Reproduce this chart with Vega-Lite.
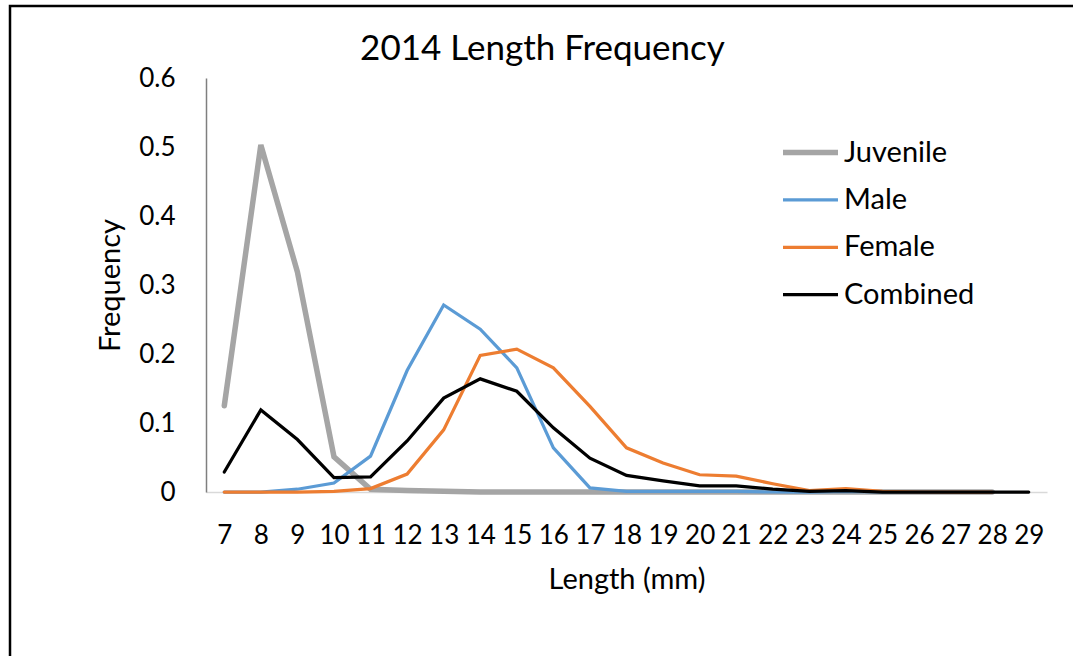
{
  "$schema": "https://vega.github.io/schema/vega-lite/v6.json",
  "autosize": {"type": "none"},
  "width": 1093,
  "height": 680,
  "padding": {"left": 10, "top": 6, "right": -30, "bottom": -30},
  "background": "white",
  "title": {
    "text": "2014 Length Frequency",
    "font": "Lato",
    "fontSize": 35,
    "fontWeight": "normal",
    "color": "#000000",
    "anchor": "middle",
    "frame": "group",
    "baseline": "alphabetic",
    "offset": -89,
    "dx": -14
  },
  "config": {
    "view": {"stroke": "#000000", "strokeWidth": 2.5, "fill": "white"},
    "font": "Lato"
  },
  "datasets": {
    "freq": [
      {"len": 7, "series": "Juvenile", "value": 0.125},
      {"len": 8, "series": "Juvenile", "value": 0.503},
      {"len": 9, "series": "Juvenile", "value": 0.319},
      {"len": 10, "series": "Juvenile", "value": 0.051},
      {"len": 11, "series": "Juvenile", "value": 0.004},
      {"len": 12, "series": "Juvenile", "value": 0.002},
      {"len": 13, "series": "Juvenile", "value": 0.001},
      {"len": 14, "series": "Juvenile", "value": 0},
      {"len": 15, "series": "Juvenile", "value": 0},
      {"len": 16, "series": "Juvenile", "value": 0},
      {"len": 17, "series": "Juvenile", "value": 0},
      {"len": 18, "series": "Juvenile", "value": 0},
      {"len": 19, "series": "Juvenile", "value": 0},
      {"len": 20, "series": "Juvenile", "value": 0},
      {"len": 21, "series": "Juvenile", "value": 0},
      {"len": 22, "series": "Juvenile", "value": 0},
      {"len": 23, "series": "Juvenile", "value": 0},
      {"len": 24, "series": "Juvenile", "value": 0},
      {"len": 25, "series": "Juvenile", "value": 0},
      {"len": 26, "series": "Juvenile", "value": 0},
      {"len": 27, "series": "Juvenile", "value": 0},
      {"len": 28, "series": "Juvenile", "value": 0},

      {"len": 7, "series": "Male", "value": 0},
      {"len": 8, "series": "Male", "value": 0},
      {"len": 9, "series": "Male", "value": 0.004},
      {"len": 10, "series": "Male", "value": 0.013},
      {"len": 11, "series": "Male", "value": 0.052},
      {"len": 12, "series": "Male", "value": 0.176},
      {"len": 13, "series": "Male", "value": 0.271},
      {"len": 14, "series": "Male", "value": 0.236},
      {"len": 15, "series": "Male", "value": 0.18},
      {"len": 16, "series": "Male", "value": 0.064},
      {"len": 17, "series": "Male", "value": 0.006},
      {"len": 18, "series": "Male", "value": 0.001},
      {"len": 19, "series": "Male", "value": 0.001},
      {"len": 20, "series": "Male", "value": 0.001},
      {"len": 21, "series": "Male", "value": 0.001},
      {"len": 22, "series": "Male", "value": 0},
      {"len": 23, "series": "Male", "value": 0},
      {"len": 24, "series": "Male", "value": 0.001},
      {"len": 25, "series": "Male", "value": 0},
      {"len": 26, "series": "Male", "value": 0},
      {"len": 27, "series": "Male", "value": 0},
      {"len": 28, "series": "Male", "value": 0},

      {"len": 7, "series": "Female", "value": 0},
      {"len": 8, "series": "Female", "value": 0},
      {"len": 9, "series": "Female", "value": 0},
      {"len": 10, "series": "Female", "value": 0.001},
      {"len": 11, "series": "Female", "value": 0.005},
      {"len": 12, "series": "Female", "value": 0.026},
      {"len": 13, "series": "Female", "value": 0.09},
      {"len": 14, "series": "Female", "value": 0.198},
      {"len": 15, "series": "Female", "value": 0.207},
      {"len": 16, "series": "Female", "value": 0.18},
      {"len": 17, "series": "Female", "value": 0.124},
      {"len": 18, "series": "Female", "value": 0.064},
      {"len": 19, "series": "Female", "value": 0.042},
      {"len": 20, "series": "Female", "value": 0.025},
      {"len": 21, "series": "Female", "value": 0.023},
      {"len": 22, "series": "Female", "value": 0.012},
      {"len": 23, "series": "Female", "value": 0.002},
      {"len": 24, "series": "Female", "value": 0.005},
      {"len": 25, "series": "Female", "value": 0.001},
      {"len": 26, "series": "Female", "value": 0},
      {"len": 27, "series": "Female", "value": 0},
      {"len": 28, "series": "Female", "value": 0},

      {"len": 7, "series": "Combined", "value": 0.029},
      {"len": 8, "series": "Combined", "value": 0.119},
      {"len": 9, "series": "Combined", "value": 0.076},
      {"len": 10, "series": "Combined", "value": 0.021},
      {"len": 11, "series": "Combined", "value": 0.022},
      {"len": 12, "series": "Combined", "value": 0.074},
      {"len": 13, "series": "Combined", "value": 0.136},
      {"len": 14, "series": "Combined", "value": 0.164},
      {"len": 15, "series": "Combined", "value": 0.146},
      {"len": 16, "series": "Combined", "value": 0.093},
      {"len": 17, "series": "Combined", "value": 0.049},
      {"len": 18, "series": "Combined", "value": 0.024},
      {"len": 19, "series": "Combined", "value": 0.016},
      {"len": 20, "series": "Combined", "value": 0.009},
      {"len": 21, "series": "Combined", "value": 0.009},
      {"len": 22, "series": "Combined", "value": 0.004},
      {"len": 23, "series": "Combined", "value": 0.001},
      {"len": 24, "series": "Combined", "value": 0.002},
      {"len": 25, "series": "Combined", "value": 0},
      {"len": 26, "series": "Combined", "value": 0},
      {"len": 27, "series": "Combined", "value": 0},
      {"len": 28, "series": "Combined", "value": 0},
      {"len": 29, "series": "Combined", "value": 0}
    ]
  },
  "data": {"name": "freq"},
  "mark": {"type": "line", "strokeJoin": "miter", "strokeCap": "round", "clip": false},
  "encoding": {
    "x": {
      "field": "len",
      "type": "ordinal",
      "sort": "ascending",
      "scale": {
        "type": "point",
        "domain": [7, 8, 9, 10, 11, 12, 13, 14, 15, 16, 17, 18, 19, 20, 21, 22, 23, 24, 25, 26, 27, 28, 29],
        "range": [196, 1037],
        "padding": 0.5
      },
      "axis": {
        "title": "Length (mm)",
        "offset": -194,
        "labelAngle": 0,
        "ticks": false,
        "grid": false,
        "domainColor": "#D9D9D9",
        "domainWidth": 1.5,
        "labelFont": "Lato",
        "labelFontSize": 26,
        "labelColor": "#000000",
        "labelBaseline": "alphabetic",
        "labelPadding": 51,
        "labelOverlap": false,
        "labelBound": false,
        "titleFont": "Lato",
        "titleFontSize": 29,
        "titleFontWeight": "normal",
        "titleColor": "#000000",
        "titlePadding": 17
      }
    },
    "y": {
      "field": "value",
      "type": "quantitative",
      "scale": {"domain": [0, 0.6], "range": [486, 72], "nice": false, "zero": true},
      "axis": {
        "title": "Frequency",
        "offset": -196,
        "values": [0, 0.1, 0.2, 0.3, 0.4, 0.5, 0.6],
        "format": ".1~f",
        "ticks": false,
        "grid": false,
        "domainColor": "#7F7F7F",
        "domainWidth": 1.5,
        "labelFont": "Lato",
        "labelFontSize": 26,
        "labelColor": "#000000",
        "labelPadding": 31,
        "labelOverlap": false,
        "titleFont": "Lato",
        "titleFontSize": 29,
        "titleFontWeight": "normal",
        "titleColor": "#000000",
        "titlePadding": 13
      }
    },
    "color": {
      "field": "series",
      "type": "nominal",
      "sort": ["Juvenile", "Male", "Female", "Combined"],
      "scale": {
        "domain": ["Juvenile", "Male", "Female", "Combined"],
        "range": ["#A5A5A5", "#5B9BD5", "#ED7D31", "#000000"]
      },
      "legend": {
        "title": null,
        "orient": "none",
        "legendX": 770,
        "legendY": 116,
        "padding": 0,
        "symbolType": "stroke",
        "symbolSize": 3025,
        "rowPadding": 2.4,
        "labelOffset": 3,
        "labelFont": "Lato",
        "labelFontSize": 29,
        "labelColor": "#000000"
      }
    },
    "strokeWidth": {
      "field": "series",
      "type": "nominal",
      "sort": ["Juvenile", "Male", "Female", "Combined"],
      "scale": {
        "type": "ordinal",
        "domain": ["Juvenile", "Male", "Female", "Combined"],
        "range": [5.5, 3.25, 3.25, 3.25]
      },
      "legend": {
        "title": null,
        "orient": "none",
        "legendX": 770,
        "legendY": 116,
        "padding": 0,
        "symbolType": "stroke",
        "symbolSize": 3025,
        "rowPadding": 2.4,
        "labelOffset": 3,
        "labelFont": "Lato",
        "labelFontSize": 29,
        "labelColor": "#000000"
      }
    }
  }
}
